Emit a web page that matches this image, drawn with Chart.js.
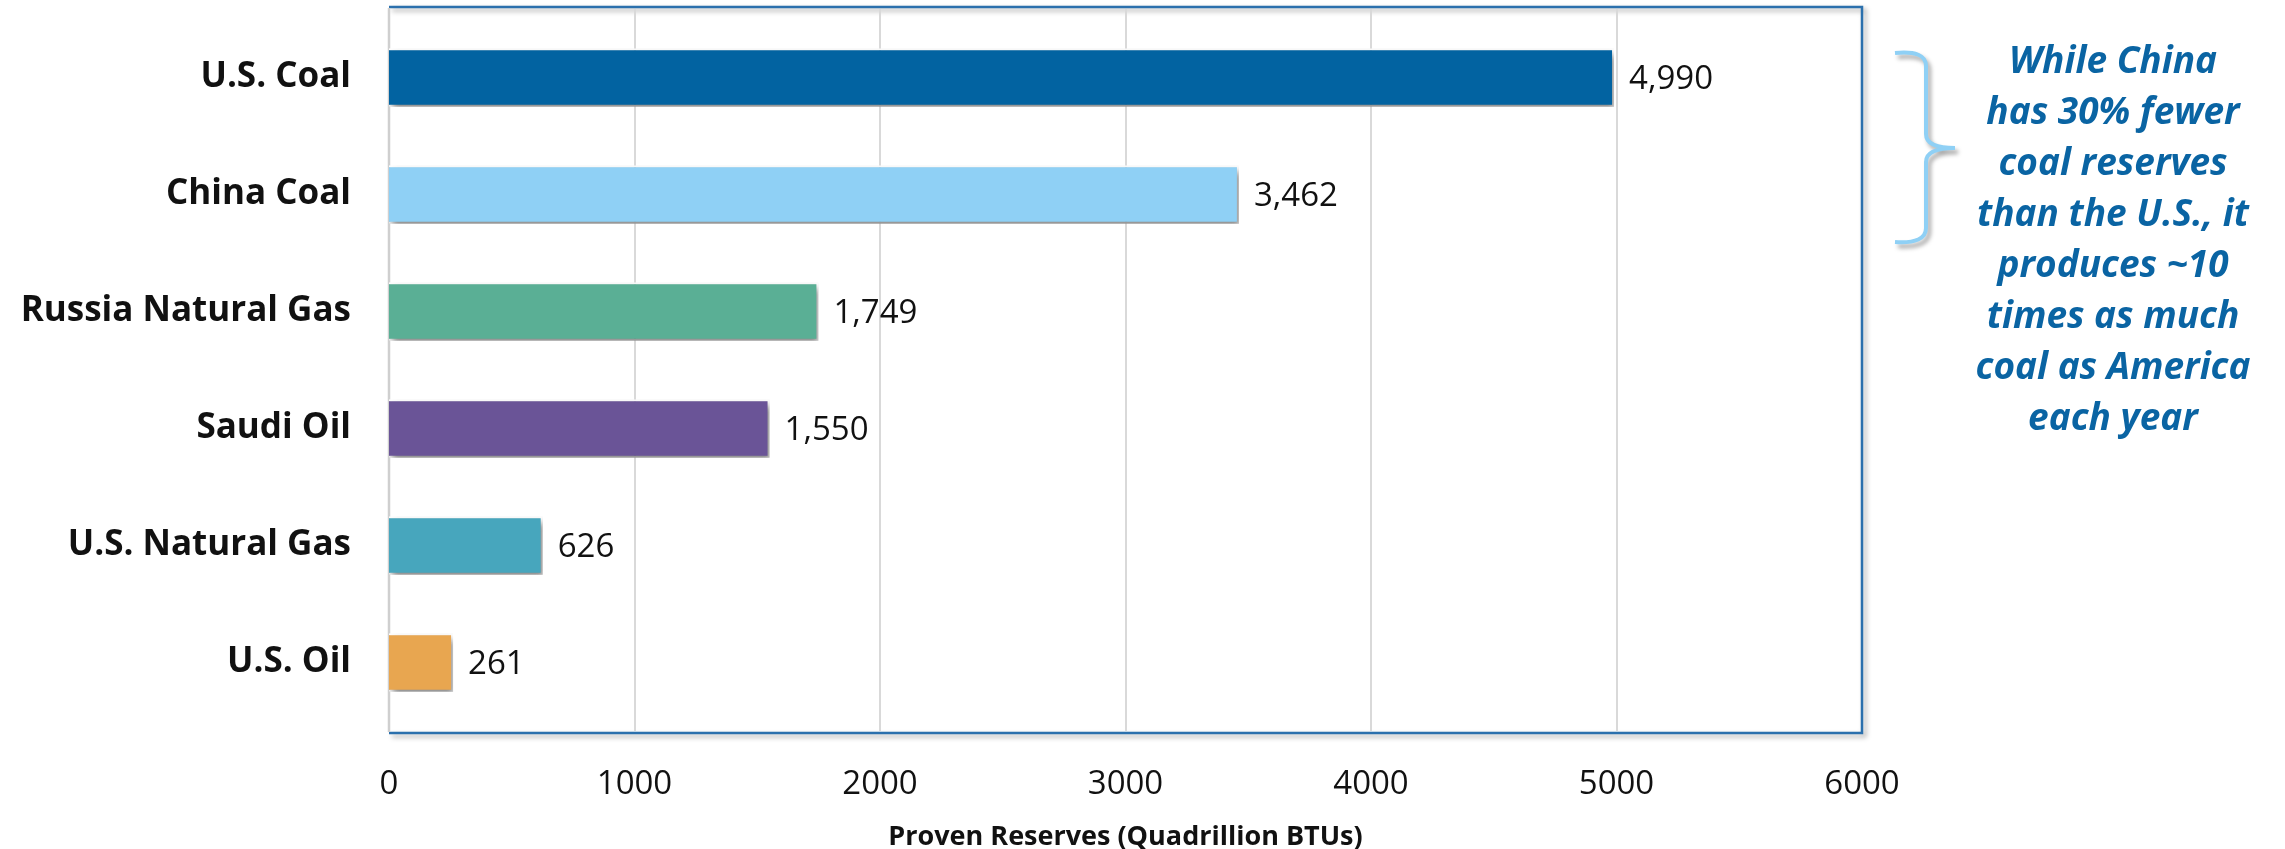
<!DOCTYPE html>
<html><head><meta charset="utf-8">
<script src="https://cdn.jsdelivr.net/npm/chart.js@4"></script>
<style>html,body{margin:0;padding:0;background:#fff}#wrap{width:2285px;height:849px;position:relative}</style>
</head><body><div id="wrap"><canvas id="c" width="2285" height="849"></canvas></div>
<script>
const categories = ['U.S. Coal','China Coal','Russia Natural Gas','Saudi Oil','U.S. Natural Gas','U.S. Oil'];
const reserves = [4990, 3462, 1749, 1550, 626, 261];
const barColors = ['#0263a1','#8fd0f5','#5aaf95','#6a5497','#47a6bd','#e8a650'];
const xMin = 0, xMax = 6000, xStep = 1000;
const axisTitle = 'Proven Reserves (Quadrillion BTUs)';
const noteLines = ['While China','has 30% fewer','coal reserves','than the U.S., it','produces ~10','times as much','coal as America','each year'];

const FONT = "'Open Sans', 'Noto Sans', sans-serif";

const decor = {
  id: 'decor',
  beforeDatasetsDraw(chart) {
    const {ctx, chartArea: a, scales: {x}} = chart;
    const top = a.top - 12, bottom = a.bottom + 12;
    ctx.save();
    ctx.shadowColor = 'rgba(0,0,0,0.35)';
    ctx.shadowOffsetX = 3; ctx.shadowOffsetY = 3; ctx.shadowBlur = 5;
    ctx.strokeStyle = '#2b70ad'; ctx.lineWidth = 2.5;
    ctx.beginPath();
    ctx.moveTo(a.left, top); ctx.lineTo(a.right, top); ctx.lineTo(a.right, bottom); ctx.lineTo(a.left, bottom);
    ctx.stroke();
    ctx.restore();
    ctx.save();
    ctx.strokeStyle = '#d9d9d9'; ctx.lineWidth = 2;
    for (let v = xMin + xStep; v < xMax; v += xStep) {
      const px = Math.round(x.getPixelForValue(v));
      ctx.beginPath(); ctx.moveTo(px, top + 2); ctx.lineTo(px, bottom - 2); ctx.stroke();
    }
    ctx.strokeStyle = '#cfcfcf'; ctx.lineWidth = 2.5;
    ctx.beginPath(); ctx.moveTo(a.left, top + 1); ctx.lineTo(a.left, bottom - 1); ctx.stroke();
    ctx.restore();
    ctx.save();
    ctx.shadowColor = 'rgba(0,0,0,0.45)';
    ctx.shadowOffsetX = 3; ctx.shadowOffsetY = 5; ctx.shadowBlur = 7;
  },
  afterDatasetsDraw(chart) {
    const {ctx} = chart;
    ctx.restore();
    ctx.save();
    const meta = chart.getDatasetMeta(0);
    ctx.fillStyle = '#111';
    ctx.font = "33px " + FONT;
    ctx.textBaseline = 'middle';
    ctx.textAlign = 'left';
    meta.data.forEach((bar, i) => {
      ctx.fillText(reserves[i].toLocaleString('en-US'), bar.x + 15, bar.y + 2);
    });
    ctx.shadowColor = 'rgba(0,0,0,0.35)';
    ctx.shadowOffsetX = 3; ctx.shadowOffsetY = 4; ctx.shadowBlur = 4;
    ctx.strokeStyle = '#8fd0f5'; ctx.lineWidth = 4;
    ctx.beginPath();
    ctx.moveTo(1895, 53);
    ctx.quadraticCurveTo(1926, 50, 1926, 66);
    ctx.lineTo(1926, 134);
    ctx.quadraticCurveTo(1926, 148, 1955, 148);
    ctx.quadraticCurveTo(1926, 148, 1926, 162);
    ctx.lineTo(1926, 228);
    ctx.quadraticCurveTo(1926, 244, 1895, 242);
    ctx.stroke();
    ctx.restore();
    ctx.save();
    ctx.fillStyle = '#0a64a3';
    ctx.font = "italic bold 37px " + FONT;
    ctx.textAlign = 'center'; ctx.textBaseline = 'middle';
    noteLines.forEach((t, i) => ctx.fillText(t, 2113, 62 + i * 51.1));
    ctx.restore();
  }
};

new Chart(document.getElementById('c'), {
  type: 'bar',
  data: {
    labels: categories,
    datasets: [{
      data: reserves,
      backgroundColor: barColors,
      borderColor: '#ffffff',
      borderWidth: 2,
      borderSkipped: 'left',
      categoryPercentage: 1,
      barPercentage: 0.5
    }]
  },
  options: {
    indexAxis: 'y',
    responsive: false,
    devicePixelRatio: 1,
    animation: false,
    layout: {padding: {top: 19, right: 423, left: 0, bottom: 0}},
    plugins: {legend: {display: false}, tooltip: {enabled: false}},
    scales: {
      x: {
        min: xMin, max: xMax,
        ticks: {stepSize: xStep, color: '#111', font: {family: FONT, size: 33}, padding: 36,
                callback: v => String(v)},
        grid: {display: false},
        border: {display: false},
        title: {display: true, text: axisTitle, color: '#111',
                font: {family: FONT, size: 27, weight: 'bold', lineHeight: 0.85}, padding: {top: 0, bottom: 0}},
        afterFit: s => { s.height = 128; s.paddingLeft = 0; }
      },
      y: {
        ticks: {color: '#111', font: {family: FONT, size: 35, weight: 'bold'}, padding: 30},
        grid: {display: false},
        border: {display: false},
        afterFit: s => { s.width = 389; s.paddingTop = 0; s.paddingBottom = 0; }
      }
    }
  },
  plugins: [decor]
});
</script></body></html>
